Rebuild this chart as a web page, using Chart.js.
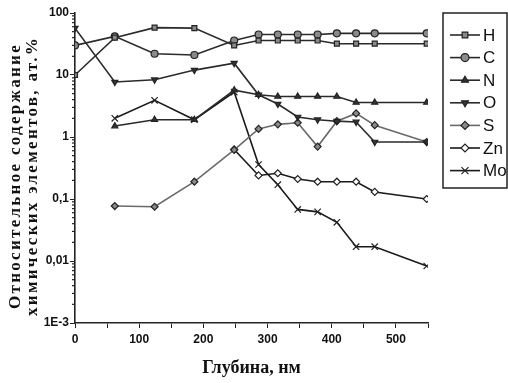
<!DOCTYPE html>
<html lang="ru">
<head>
<meta charset="utf-8">
<title>Глубина</title>
<script src="https://cdn.jsdelivr.net/npm/chart.js"></script>
<style>
  html, body { margin: 0; padding: 0; background: #fff; }
  #wrap { width: 508px; height: 383px; }
</style>
</head>
<body>
<div id="wrap"><canvas id="depthChart" width="508" height="383"></canvas></div>
<script>
// depth, nm
const depth = [0, 62, 124, 186, 248, 286, 316, 347, 378, 408, 438, 467, 548];

// relative content, at.%
const H  = [10, 40, 58, 57, 30, 36, 36, 36, 36, 32, 32, 32, 32];
const C  = [30, 42, 22, 21, 36, 45, 45, 45, 45, 47, 47, 47, 47];
const N  = [null, 1.5, 1.9, 1.9, 5.7, 4.8, 4.5, 4.5, 4.5, 4.5, 3.6, 3.6, 3.6];
const O  = [57, 7.7, 8.4, 12, 15.5, 4.8, 3.4, 2.1, 1.9, 1.8, 1.75, 0.83, 0.83];
const S  = [null, 0.077, 0.075, 0.19, 0.62, 1.35, 1.6, 1.7, 0.7, 1.8, 2.4, 1.55, 0.83];
const Zn = [null, null, null, null, 0.63, 0.24, 0.26, 0.21, 0.19, 0.19, 0.19, 0.13, 0.1];
const Mo = [null, 2.0, 3.9, 1.9, 5.3, 0.36, 0.17, 0.068, 0.062, 0.042, 0.017, 0.017, 0.0083];

const yTicks = [0.001, 0.01, 0.1, 1, 10, 100];
const yTickLabels = ['1E-3', '0,01', '0,1', '1', '10', '100'];
const xTicks = [0, 100, 200, 300, 400, 500];
const yTitle = ['Относительное содержание', 'химических элементов, ат.%'];

function pts(arr) {
  const out = [];
  arr.forEach((v, i) => { if (v !== null) out.push({ x: depth[i], y: v }); });
  return out;
}

// name, values, marker, fill, line colour
const series = [
  { label: 'H',  data: H,  style: 'rect',     rot: 0,   fill: '#8a8a8a', line: '#2a2a2a' },
  { label: 'C',  data: C,  style: 'circle',   rot: 0,   fill: '#8a8a8a', line: '#2a2a2a' },
  { label: 'N',  data: N,  style: 'triangle', rot: 0,   fill: '#333',    line: '#2a2a2a' },
  { label: 'O',  data: O,  style: 'triangle', rot: 180, fill: '#333',    line: '#2a2a2a' },
  { label: 'S',  data: S,  style: 'rectRot',  rot: 0,   fill: '#8a8a8a', line: '#6a6a6a' },
  { label: 'Zn', data: Zn, style: 'rectRot',  rot: 0,   fill: '#ffffff', line: '#1a1a1a' },
  { label: 'Mo', data: Mo, style: 'crossRot', rot: 0,   fill: '#1a1a1a', line: '#1a1a1a' }
];

const datasets = series.map(s => ({
  label: s.label,
  data: pts(s.data),
  borderColor: s.line,
  borderWidth: 1.6,
  pointStyle: s.style,
  pointRotation: s.rot,
  pointRadius: s.style === 'crossRot' ? 4.5 : 3.5,
  pointBackgroundColor: s.fill,
  pointBorderColor: '#222',
  pointBorderWidth: 1.2,
  tension: 0,
  fill: false
}));

// legend box with line + marker, minor ticks, spaced y title
const extras = {
  id: 'extras',
  afterDraw(chart) {
    const ctx = chart.ctx;
    const xs = chart.scales.x, ys = chart.scales.y;
    ctx.save();
    ctx.strokeStyle = '#222';
    ctx.lineWidth = 1.2;
    // minor y ticks
    for (let d = -3; d < 2; d++) {
      for (let m = 2; m <= 9; m++) {
        const py = ys.getPixelForValue(m * Math.pow(10, d));
        ctx.beginPath();
        ctx.moveTo(xs.left - 3, py);
        ctx.lineTo(xs.left, py);
        ctx.stroke();
      }
    }
    // y title
    ctx.save();
    ctx.translate(0, (ys.top + ys.bottom) / 2);
    ctx.rotate(-Math.PI / 2);
    ctx.font = 'bold 17px "Liberation Serif", "DejaVu Serif", serif';
    ctx.letterSpacing = '2.3px';
    ctx.textAlign = 'center';
    ctx.textBaseline = 'middle';
    ctx.fillStyle = '#111';
    ctx.fillText(yTitle[0], -8, 16);
    ctx.fillText(yTitle[1], -8, 33);
    ctx.restore();
    // legend
    const lx = 443, ly = 13, lw = 64, lh = 175;
    ctx.lineWidth = 1.5;
    ctx.strokeStyle = '#222';
    ctx.strokeRect(lx, ly, lw, lh);
    ctx.font = '17px "Liberation Sans Narrow", "Liberation Sans", Arial, sans-serif';
    ctx.textBaseline = 'middle';
    ctx.fillStyle = '#111';
    series.forEach((s, i) => {
      const y = ly + 22 + i * 22.6;
      ctx.strokeStyle = s.line;
      ctx.lineWidth = 1.6;
      ctx.beginPath();
      ctx.moveTo(lx + 7, y);
      ctx.lineTo(lx + 37, y);
      ctx.stroke();
      ctx.fillStyle = s.fill;
      ctx.strokeStyle = '#222';
      ctx.lineWidth = 1.2;
      Chart.helpers.drawPoint(ctx, {
        pointStyle: s.style,
        rotation: s.rot,
        radius: s.style === 'crossRot' ? 5 : 4,
        borderWidth: 1.2
      }, lx + 22, y);
      ctx.fillStyle = '#111';
      ctx.fillText(s.label, lx + 40, y + 1);
    });
    ctx.restore();
  }
};

new Chart(document.getElementById('depthChart').getContext('2d'), {
  type: 'line',
  data: { datasets: datasets },
  options: {
    responsive: false,
    animation: false,
    layout: { padding: { top: 13, right: 80, left: 0, bottom: 0 } },
    plugins: { legend: { display: false }, tooltip: { enabled: false } },
    scales: {
      x: {
        type: 'linear',
        min: 0,
        max: 550,
        border: { color: '#222', width: 1.6 },
        grid: { drawOnChartArea: false, tickLength: 5, color: '#222' },
        ticks: {
          stepSize: 50,
          padding: 4,
          color: '#111',
          font: { family: '"Liberation Sans Narrow", "Liberation Sans", Arial, sans-serif', size: 12, weight: 'bold' },
          callback: v => xTicks.includes(v) ? String(v) : ''
        },
        title: {
          display: true,
          text: 'Глубина, нм',
          color: '#111',
          font: { family: '"Liberation Serif", "DejaVu Serif", serif', size: 18, weight: 'bold' },
          padding: { top: 14 }
        },
        afterFit: s => { s.height = 60; }
      },
      y: {
        type: 'logarithmic',
        min: 0.001,
        max: 100,
        border: { color: '#222', width: 1.6 },
        grid: { drawOnChartArea: false, tickLength: 5, color: '#222' },
        afterBuildTicks: s => { s.ticks = yTicks.map(v => ({ value: v })); },
        ticks: {
          padding: 1,
          color: '#111',
          font: { family: '"Liberation Sans Narrow", "Liberation Sans", Arial, sans-serif', size: 12, weight: 'bold' },
          callback: v => { const i = yTicks.indexOf(v); return i >= 0 ? yTickLabels[i] : ''; }
        },
        title: { display: false },
        afterFit: s => { s.width = 75; }
      }
    }
  },
  plugins: [extras]
});
</script>
</body>
</html>
